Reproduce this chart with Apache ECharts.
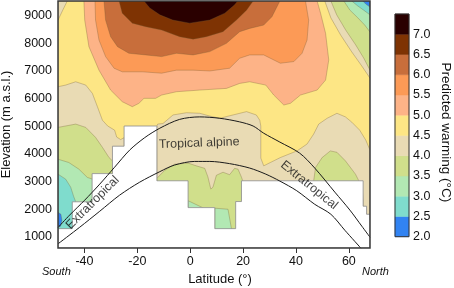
<!DOCTYPE html>
<html>
<head>
<meta charset="utf-8">
<script src="https://cdn.jsdelivr.net/npm/echarts@6.0.0/dist/echarts.min.js"></script>
<style>
  html, body { margin: 0; padding: 0; background: #fff; }
  #chart { width: 454px; height: 288px; }
</style>
</head>
<body>
<div id="chart"></div>
<script>
// axes
const latRange = [-50, 68]
const elevRange = [600, 9530]
const latTicks = [-40, -20, 0, 20, 40, 60]
const elevTicks = [1000, 2000, 3000, 4000, 5000, 6000, 7000, 8000, 9000]

// predicted warming classes (°C)
const warmingBreaks = [2.0, 2.5, 3.0, 3.5, 4.0, 4.5, 5.0, 5.5, 6.0, 6.5, 7.0, 7.5]
const warmingTicks = [2.0, 2.5, 3.0, 3.5, 4.0, 4.5, 5.0, 5.5, 6.0, 6.5, 7.0]
const warmingColors = ['#3183f2', '#7fdccd', '#b2e8b3', '#d0df8b', '#e9dbb4', '#fde685',
  '#fdb387', '#fc9a56', '#c86e3b', '#7e3303', '#2a0000']

// contour regions, [latitude, elevation]
const above50 = [[-40.2, 9530], [-39.9, 8840], [-38.3, 7880], [-34.5, 7030], [-30.1, 6310], [-25.7, 5890],
  [-21.9, 5710], [-19.4, 5830], [-17.5, 6010], [-13.1, 6010], [-10.8, 6130], [-5.2, 6250], [3.6, 6310],
  [13.7, 6370], [18.7, 6550], [22.5, 6610], [28.6, 6490], [31.6, 6130], [35.4, 5770], [37.9, 5830],
  [41.7, 6130], [48.0, 6310], [51.2, 6670], [52.4, 7400], [51.2, 8360], [49.3, 9090], [48.0, 9530]]
const above55 = [[-36.0, 9530], [-35.8, 8840], [-34.5, 8120], [-32.0, 7520], [-28.8, 7100], [-25.7, 6970],
  [-18.1, 6970], [-10.8, 6920], [-5.2, 7030], [1.1, 7030], [7.4, 7000], [14.9, 7100], [18.7, 7460],
  [22.5, 7580], [27.8, 7580], [34.1, 7280], [39.2, 7340], [42.3, 7640], [44.2, 8120], [44.8, 8840], [43.6, 9530]]
const above60 = [[-32.6, 9530], [-32.0, 8840], [-30.1, 8240], [-27.5, 7880], [-23.2, 7640], [-16.8, 7580],
  [-10.8, 7520], [-5.2, 7640], [1.1, 7580], [7.4, 7700], [13.7, 8000], [18.7, 8420], [22.5, 8540],
  [27.8, 8660], [30.9, 8960], [33.5, 9450], [33.9, 9530]]
const above65 = [[-26.9, 9530], [-25.7, 9090], [-21.9, 8730], [-16.8, 8600], [-10.8, 8480], [-4.0, 8240],
  [1.1, 8150], [6.1, 8240], [12.4, 8420], [17.5, 8840], [21.3, 9200], [23.8, 9530]]
const above70 = [[-17.5, 9530], [-15.3, 9280], [-11.5, 9030], [-6.6, 8840], [-0.2, 8730], [7.4, 8840],
  [13.1, 9090], [16.8, 9390], [18.0, 9530]]

const below45TopLeft = [[-50, 9530], [-46.5, 9530], [-48.2, 9200], [-50, 8840]]
const below45Left = [[-50, 6430], [-47.1, 6490], [-43.3, 6610], [-39.5, 6490], [-37.0, 6190], [-35.1, 5710],
  [-33.2, 5220], [-31.2, 5010], [-28.6, 4860], [-27.8, 4610], [-26.3, 4520], [-25.0, 4590], [-25.0, 600], [-50, 600]]
const below45Mid = [[-12.6, 5010], [-12.3, 5080], [-10.3, 5100], [-6.5, 5410], [-1.4, 5490], [3.6, 5470],
  [7.4, 5370], [11.2, 5290], [16.2, 5410], [21.3, 5530], [25.0, 5410], [26.3, 5220], [26.7, 5010],
  [26.7, 3850], [27.8, 3570], [30.3, 3690], [34.1, 3870], [40.4, 4110], [44.2, 4360], [46.7, 4720],
  [48.6, 5080], [51.8, 5290], [55.5, 5470], [58.7, 5340], [61.1, 5150], [64.1, 4860], [66.4, 4500],
  [68, 4140], [68, 600], [-12.6, 600]]
const below45TopRight = [[50.9, 9530], [53.2, 8920], [56.9, 8300], [61.1, 7690], [64.9, 7180], [68, 6740], [68, 9530]]

const below40Left = [[-50, 4960], [-43.3, 5080], [-39.5, 4960], [-35.8, 4600], [-33.2, 4240], [-30.7, 3870],
  [-29.3, 3740], [-29.3, 600], [-50, 600]]
const below40Mid = [[-12.6, 3120], [-9.6, 3410], [-5.9, 3630], [-0.8, 3670], [2.3, 3570], [5.5, 3480],
  [6.7, 3170], [7.8, 2730], [8.6, 2800], [9.9, 3230], [12.4, 3340], [14.9, 3250], [16.8, 3480],
  [18.1, 3450], [19.4, 3160], [19.9, 3020], [19.9, 600], [-12.6, 600]]
const below40Right = [[46.7, 3030], [47.4, 3510], [49.9, 3870], [53.0, 4110], [55.5, 4060], [58.7, 3750],
  [62.5, 3270], [65.0, 2800], [65.4, 2330], [65.4, 600], [46.7, 600]]
const below40TopRight = [[53.2, 9530], [55.4, 9030], [58.8, 8480], [62.6, 7940], [65.6, 7470], [68, 7030], [68, 9530]]

const below35Left = [[-50, 3810], [-45.9, 3690], [-42.1, 3450], [-38.9, 3150], [-36.9, 3090], [-36.9, 600], [-50, 600]]
const below35MidA = [[-0.8, 2310], [5.1, 2040], [5.1, 600], [-0.8, 600]]
const below35MidB = [[9.3, 2040], [14.3, 2000], [15.6, 1300], [15.6, 600], [9.3, 600]]
const below35TopRight = [[58.1, 9530], [60.4, 9200], [63.4, 8920], [66.0, 8660], [68, 8410], [68, 9530]]

const below30Left = [[-50, 3270], [-47.1, 3090], [-45.2, 2800], [-44.1, 2470], [-43.3, 2270], [-43.3, 600], [-50, 600]]
const below30TopRight = [[61.1, 9530], [63.4, 9350], [65.6, 9200], [68, 9030], [68, 9530]]

const below25Left = [[-50, 1890], [-48.9, 1820], [-48.5, 1600], [-49.0, 1390], [-50, 1350]]
const below25TopRight = [[65.3, 9530], [66.4, 9420], [68, 9310], [68, 9530]]

// cells without data (below the terrain)
const terrainMask = [[-50, 1300], [-44.6, 1300], [-44.6, 2270], [-37.1, 2270], [-37.1, 3290], [-29.4, 3290],
  [-29.4, 4280], [-25.0, 4280], [-25.0, 5010], [-12.6, 5010], [-12.6, 3030], [-0.8, 3030], [-0.8, 2060],
  [9.3, 2060], [9.3, 1300], [17.2, 1300], [17.2, 2280], [19.4, 2280], [19.4, 3030], [65.4, 3030],
  [65.4, 2110], [66.7, 2110], [66.7, 1820], [68, 1820], [68, 600], [-50, 600]]

// treeline limits
const upperLimit = [[-50, 1340], [-45.6, 1790], [-39.9, 2330], [-34.2, 2910], [-28.6, 3520], [-22.9, 4140],
  [-17.2, 4590], [-11.5, 4930], [-4.0, 5250], [3.6, 5340], [11.2, 5290], [18.7, 5160], [23.8, 5010],
  [27.8, 4750], [33.9, 4430], [41.4, 4030], [47.1, 3490], [54.7, 2620], [60.4, 1970], [64.9, 1390], [68, 990]]
const lowerLimit = [[-50, 750], [-41.8, 1350], [-34.2, 1930], [-26.7, 2510], [-19.1, 2980], [-11.5, 3360],
  [-5.9, 3600], [1.7, 3730], [7.4, 3730], [14.9, 3650], [22.5, 3490], [28.6, 3270], [33.9, 3020],
  [40.3, 2670], [47.1, 2180], [53.2, 1820], [58.5, 1240], [64.6, 590]]

const zoneNames = ['Tropical alpine', 'Extratropical', 'Extratropical']
const zoneAnchors = [[3.4, 4390], [-36.9, 2240], [45.0, 2870]]
const zoneAngles = [2, 45, -39]

const fontFamily = '"Liberation Sans", Arial, sans-serif'
const contourLine = 'rgba(110,90,50,0.45)'

const fullField = [[latRange[0], elevRange[0]], [latRange[1], elevRange[0]],
  [latRange[1], elevRange[1]], [latRange[0], elevRange[1]]]

const layers = [
  [5, fullField],
  [6, above50], [7, above55], [8, above60], [9, above65], [10, above70],
  [4, below45TopLeft], [4, below45Left], [4, below45Mid], [4, below45TopRight],
  [3, below40Left], [3, below40Mid], [3, below40Right], [3, below40TopRight],
  [2, below35Left], [2, below35MidA], [2, below35MidB], [2, below35TopRight],
  [1, below30Left], [1, below30TopRight],
  [0, below25Left], [0, below25TopRight]
].map(([band, ring]) => ({ ring, fill: warmingColors[band], stroke: contourLine, width: 0.7 }))
layers.push({ ring: terrainMask, fill: '#ffffff', stroke: '#8c8c8c', width: 0.8 })

const chart = echarts.init(document.getElementById('chart'))

chart.setOption({
  animation: false,
  textStyle: { fontFamily },
  grid: [
    { left: 58, top: 1, width: 312, height: 247, show: true, z: 10,
      backgroundColor: 'transparent', borderColor: '#3a3a3a', borderWidth: 1.5, outerBoundsMode: 'none' },
    { left: 395, top: 14, width: 14, height: 222.7, show: true, z: 10,
      backgroundColor: 'transparent', borderColor: '#333', borderWidth: 1, outerBoundsMode: 'none' }
  ],
  xAxis: [
    {
      type: 'value', gridIndex: 0, min: latRange[0], max: latRange[1],
      name: 'Latitude (°)', nameLocation: 'middle', nameGap: 24,
      nameTextStyle: { fontSize: 13, color: '#111', padding: [0, 0, 0, 12] },
      splitLine: { show: false },
      axisLine: { show: false },
      axisTick: { show: true, length: 5, customValues: latTicks, lineStyle: { color: '#333' } },
      axisLabel: { customValues: latTicks, fontSize: 12.5, color: '#111', margin: 7, formatter: v => String(v) }
    },
    { type: 'category', gridIndex: 1, data: [''], show: false }
  ],
  yAxis: [
    {
      type: 'value', gridIndex: 0, min: elevRange[0], max: elevRange[1],
      name: 'Elevation (m a.s.l.)', nameLocation: 'middle', nameGap: 41, nameRotate: 90,
      nameTextStyle: { fontSize: 13, color: '#111' },
      splitLine: { show: false },
      axisLine: { show: false },
      axisTick: { show: true, length: 5, customValues: elevTicks, lineStyle: { color: '#333' } },
      axisLabel: { customValues: elevTicks, fontSize: 12.5, color: '#111', margin: 6, formatter: v => String(v) }
    },
    {
      type: 'value', gridIndex: 1, min: warmingBreaks[0], max: warmingBreaks[warmingBreaks.length - 1],
      position: 'right',
      name: 'Predicted warming (°C)', nameLocation: 'middle', nameGap: 30, nameRotate: -90,
      nameTextStyle: { fontSize: 13.5, color: '#111', padding: [0, 0, 0, 14] },
      splitLine: { show: false },
      axisLine: { show: false },
      axisTick: { show: false },
      axisLabel: { customValues: warmingTicks, fontSize: 12.5, color: '#111', margin: 4,
        formatter: v => v.toFixed(1) }
    }
  ],
  graphic: [
    { type: 'text', left: 42, top: 266, style: { text: 'South', font: 'italic 11px ' + fontFamily, fill: '#111' } },
    { type: 'text', left: 362, top: 266, style: { text: 'North', font: 'italic 11px ' + fontFamily, fill: '#111' } }
  ],
  series: [
    {
      type: 'custom',
      name: 'warming',
      xAxisIndex: 0, yAxisIndex: 0,
      clip: true,
      z: 2,
      data: layers.map((l, i) => [i, elevRange[0]]),
      renderItem: function (params, api) {
        const layer = layers[params.dataIndex]
        return {
          type: 'polygon',
          z2: params.dataIndex,
          shape: { points: layer.ring.map(p => api.coord(p)) },
          style: { fill: layer.fill, stroke: layer.stroke, lineWidth: layer.width }
        }
      }
    },
    {
      type: 'line', name: 'upper', data: upperLimit, smooth: 0.3, showSymbol: false, z: 4,
      lineStyle: { color: '#1a1a1a', width: 1 }
    },
    {
      type: 'line', name: 'lower', data: lowerLimit, smooth: 0.3, showSymbol: false, z: 4,
      lineStyle: { color: '#1a1a1a', width: 1 }
    },
    {
      type: 'scatter', symbolSize: 0, z: 5, silent: true,
      data: zoneAnchors.map((p, i) => ({
        value: p,
        label: { formatter: zoneNames[i], rotate: zoneAngles[i] }
      })),
      label: { show: true, position: 'inside', fontSize: 12.5, color: '#111', fontFamily }
    },
    {
      type: 'custom',
      name: 'colorbar',
      xAxisIndex: 1, yAxisIndex: 1,
      data: warmingColors.map((c, i) => [0, warmingBreaks[i], warmingBreaks[i + 1], i]),
      renderItem: function (params, api) {
        const lo = api.coord([0, api.value(1)])
        const hi = api.coord([0, api.value(2)])
        const w = api.size([1, 0])[0]
        const c = warmingColors[api.value(3)]
        return {
          type: 'rect',
          shape: { x: lo[0] - w / 2, y: hi[1], width: w, height: lo[1] - hi[1] },
          style: { fill: c, stroke: c, lineWidth: 0.5 }
        }
      }
    }
  ]
})
</script>
</body>
</html>
